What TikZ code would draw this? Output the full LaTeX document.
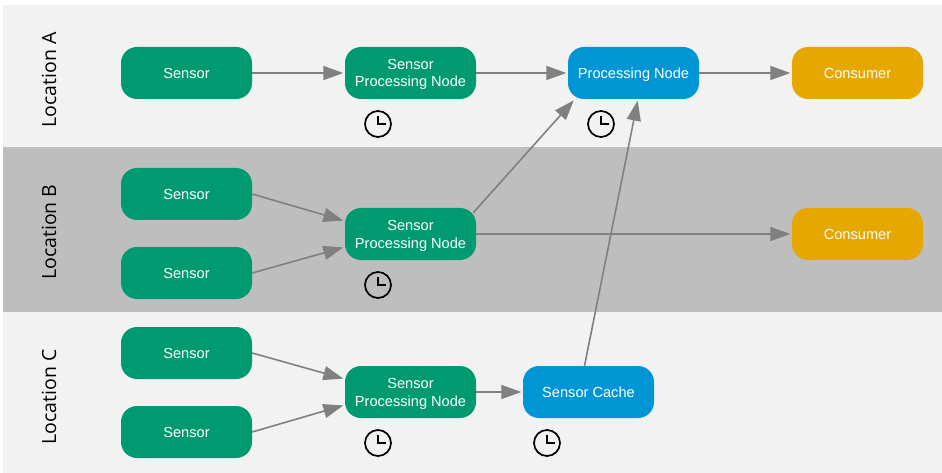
\documentclass[tikz,border=0pt]{standalone}
\usepackage{fontspec}
\setmainfont{Liberation Sans}
\newfontfamily\locfont{Open Sans}
\usetikzlibrary{arrows.meta}
\definecolor{bandlight}{HTML}{F2F2F2}
\definecolor{banddark}{HTML}{BEBEBE}
\definecolor{cgreen}{HTML}{009A70}
\definecolor{cblue}{HTML}{0096D6}
\definecolor{corange}{HTML}{E6A800}
\definecolor{cline}{HTML}{808080}
\tikzset{
  x=1pt,y=-1pt,
  box/.style={minimum width=131pt,minimum height=52pt,rounded corners=16pt,inner sep=0pt,
    align=center,text=white,font=\fontsize{14.6}{17.5}\selectfont,text height=10.5pt,text depth=0pt},
  greenbox/.style={box,fill=cgreen},
  twoline/.style={box,fill=cgreen,text height=31pt,text depth=3pt},
  bluebox/.style={box,fill=cblue},
  orangebox/.style={box,fill=corange},
  conn/.style={draw=cline,line width=1.6pt,-{Triangle[length=20pt,width=14pt]},shorten >=1.5pt},
  loclabel/.style={rotate=90,font=\locfont\fontsize{19.5}{22}\selectfont,text=black,inner sep=0pt},
  clockface/.style={circle,draw=black,line width=1.7pt,minimum size=26pt,inner sep=0pt},
  clockhand/.style={draw=black,line width=1.7pt}
}
\newcommand{\clockat}[2]{%
  \node[clockface] (#1) at (#2) {};
  \draw[clockhand] (#1.center) ++(0,-8) -- ++(0,8) -- ++(8,0);
}
\begin{document}
\begin{tikzpicture}
\useasboundingbox (0,0) rectangle (942,473);
\fill[white] (0,0) rectangle (942,473);
\fill[bandlight] (3,5) rectangle (942,147);
\fill[banddark] (3,147) rectangle (942,312);
\fill[bandlight] (3,312) rectangle (942,473);

\node[loclabel] (la) at (49,80) {Location A};
\node[loclabel] (lb) at (49,232) {Location B};
\node[loclabel] (lc) at (49,397) {Location C};

\node[greenbox] (sa) at (186.5,73) {Sensor};
\node[twoline] (spa) at (410.5,73) {Sensor\\Processing Node};
\node[bluebox] (pn) at (633.5,73) {Processing Node};
\node[orangebox] (ca) at (857.5,73) {Consumer};

\node[greenbox] (sb1) at (186.5,194) {Sensor};
\node[greenbox] (sb2) at (186.5,273) {Sensor};
\node[twoline] (spb) at (410.5,234) {Sensor\\Processing Node};
\node[orangebox] (cb) at (857.5,234) {Consumer};

\node[greenbox] (sc1) at (186.5,353) {Sensor};
\node[greenbox] (sc2) at (186.5,432) {Sensor};
\node[twoline] (spc) at (410.5,392) {Sensor\\Processing Node};
\node[bluebox] (cache) at (588.5,392) {Sensor Cache};

\clockat{k1}{378,124}
\clockat{k2}{601,124}
\clockat{k3}{378,285}
\clockat{k4}{378,443}
\clockat{k5}{547,443}

\draw[conn] (sa) -- (spa);
\draw[conn] (spa) -- (pn);
\draw[conn] (pn) -- (ca);
\draw[conn] (sb1.east) -- ([yshift=13]spb.west);
\draw[conn] (sb2.east) -- ([yshift=-13]spb.west);
\draw[conn] (spb) -- (cb);
\draw[conn] ([xshift=-3,yshift=-5]spb.north east) -- ([xshift=7]pn.south west);
\draw[conn] (sc1.east) -- ([yshift=13]spc.west);
\draw[conn] (sc2.east) -- ([yshift=-13]spc.west);
\draw[conn] (spc) -- (cache);
\draw[conn] ([xshift=-4]cache.north) -- ([xshift=4.5]pn.south);
\end{tikzpicture}
\end{document}
